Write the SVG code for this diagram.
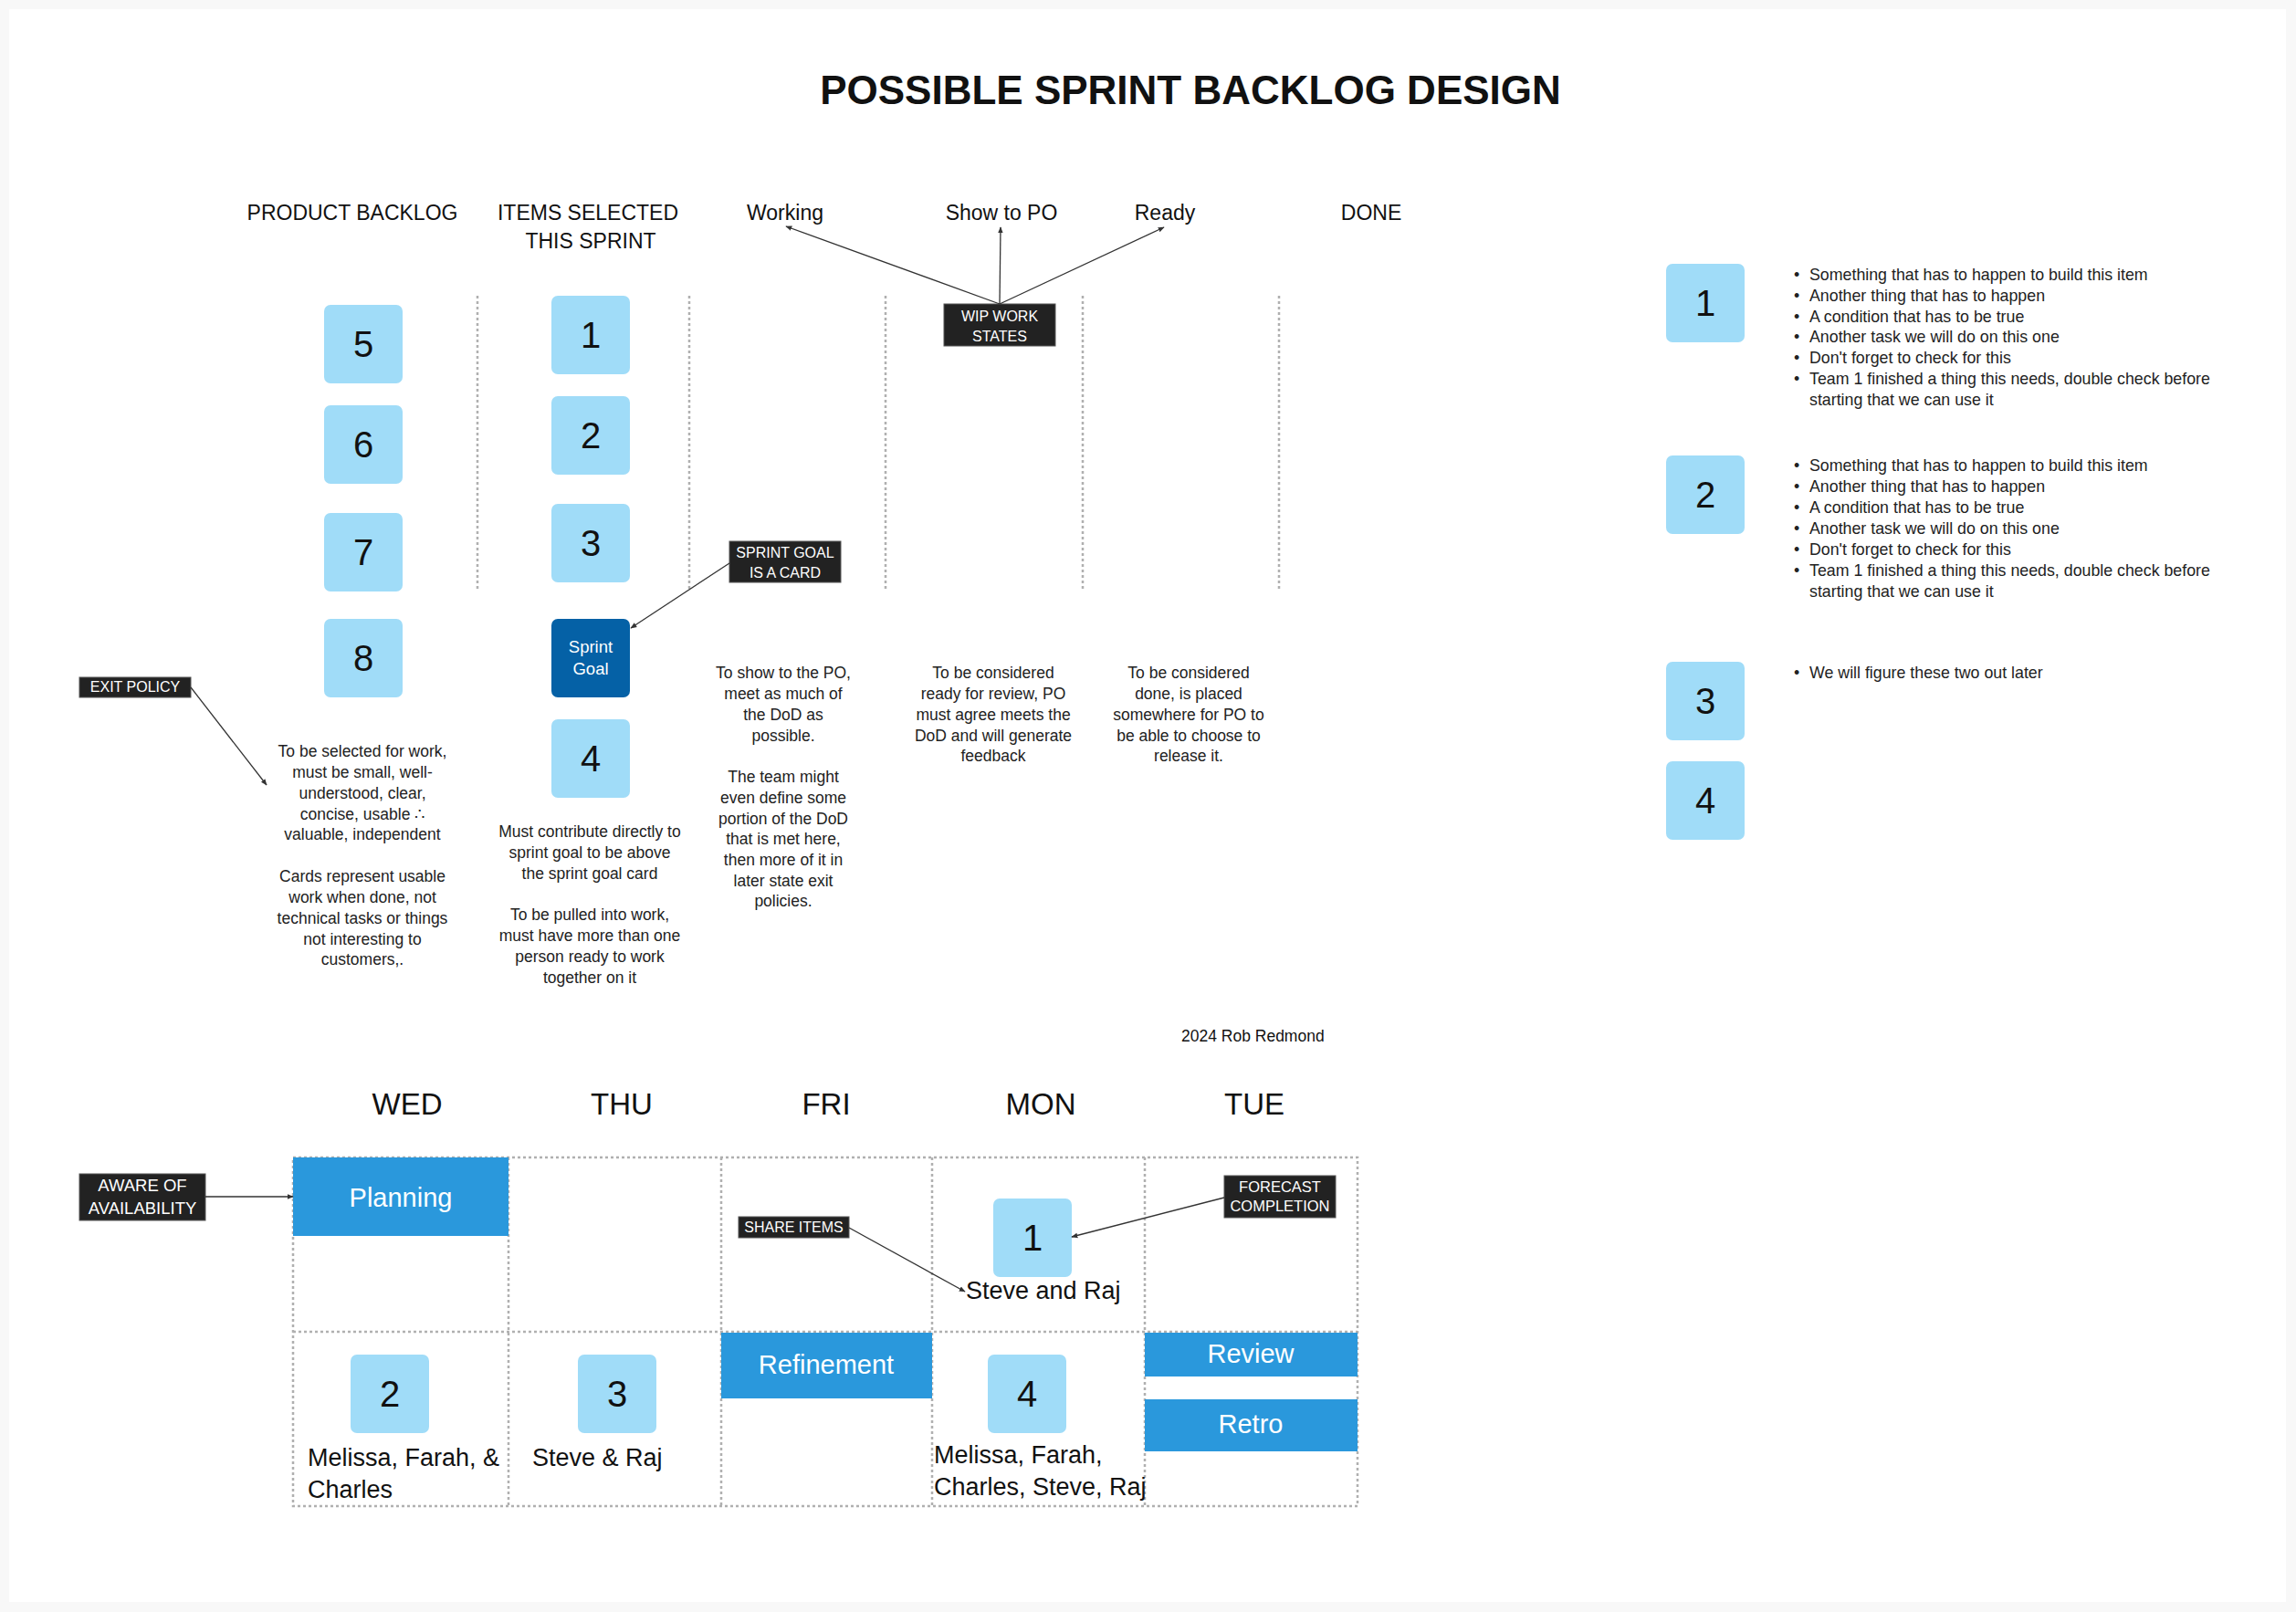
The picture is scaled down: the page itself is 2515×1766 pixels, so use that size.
<svg xmlns="http://www.w3.org/2000/svg" width="2515" height="1766" viewBox="0 0 2515 1766">
<defs>
<marker id="ah" viewBox="0 0 10 10" refX="9" refY="5" markerWidth="7" markerHeight="7" markerUnits="userSpaceOnUse" orient="auto">
<path d="M0,1 L10,5 L0,9 z" fill="#333"/>
</marker>
<style>
text{font-family:"Liberation Sans",Arial,sans-serif;fill:#111}
.title{font-size:44px;font-weight:bold;text-anchor:middle}
.hdr{font-size:23px;text-anchor:middle}
.day{font-size:33px;text-anchor:middle}
.card{fill:#a0dcf8}
.num{font-size:40px;text-anchor:middle}
.pol{font-size:17.5px;text-anchor:middle;fill:#222}
.lbl rect{fill:#222;stroke:#555;stroke-width:1}
.lbl text{fill:#fff;font-size:16px;text-anchor:middle}
.evt rect{fill:#2a98dc}
.evt text{fill:#fff;font-size:29px;text-anchor:middle}
.dash{stroke:#b0b0b0;stroke-width:2.5;stroke-dasharray:3 3;fill:none}
.con{stroke:#333;stroke-width:1.3;fill:none;marker-end:url(#ah)}
.bul{font-size:17.8px;fill:#222}
.ppl{font-size:27px}
</style>
</defs>
<rect x="0" y="0" width="2515" height="1766" fill="#f8f8f8"/>
<rect x="10" y="10" width="2494" height="1745" fill="#fff"/>

<text class="title" x="1304" y="114">POSSIBLE SPRINT BACKLOG DESIGN</text>

<g id="headers">
<text class="hdr" x="386" y="241">PRODUCT BACKLOG</text>
<text class="hdr" x="644" y="241">ITEMS SELECTED</text>
<text class="hdr" x="647" y="272">THIS SPRINT</text>
<text class="hdr" x="860" y="241">Working</text>
<text class="hdr" x="1097" y="241">Show to PO</text>
<text class="hdr" x="1276" y="241">Ready</text>
<text class="hdr" x="1502" y="241">DONE</text>
</g>

<g id="columns">
<line class="dash" x1="523" y1="324" x2="523" y2="648"/>
<line class="dash" x1="755" y1="324" x2="755" y2="648"/>
<line class="dash" x1="970" y1="324" x2="970" y2="648"/>
<line class="dash" x1="1186" y1="324" x2="1186" y2="648"/>
<line class="dash" x1="1401" y1="324" x2="1401" y2="648"/>
</g>

<g id="card-5"><rect class="card" x="355" y="334" width="86" height="86" rx="7"/><text class="num" x="398" y="391">5</text></g>
<g id="card-6"><rect class="card" x="355" y="444" width="86" height="86" rx="7"/><text class="num" x="398" y="501">6</text></g>
<g id="card-7"><rect class="card" x="355" y="562" width="86" height="86" rx="7"/><text class="num" x="398" y="619">7</text></g>
<g id="card-8"><rect class="card" x="355" y="678" width="86" height="86" rx="7"/><text class="num" x="398" y="735">8</text></g>

<g id="sel-1"><rect class="card" x="604" y="324" width="86" height="86" rx="7"/><text class="num" x="647" y="381">1</text></g>
<g id="sel-2"><rect class="card" x="604" y="434" width="86" height="86" rx="7"/><text class="num" x="647" y="491">2</text></g>
<g id="sel-3"><rect class="card" x="604" y="552" width="86" height="86" rx="7"/><text class="num" x="647" y="609">3</text></g>
<g id="sprint-goal"><rect x="604" y="678" width="86" height="86" rx="7" fill="#0561a6"/><text x="647" y="715" style="font-size:18.5px;text-anchor:middle;fill:#fff">Sprint</text><text x="647" y="739" style="font-size:18.5px;text-anchor:middle;fill:#fff">Goal</text></g>
<g id="sel-4"><rect class="card" x="604" y="788" width="86" height="86" rx="7"/><text class="num" x="647" y="845">4</text></g>

<g id="wip-label" class="lbl"><rect x="1034" y="333" width="122" height="46"/><text x="1095" y="352">WIP WORK</text><text x="1095" y="374">STATES</text></g>
<g id="sprintgoal-label" class="lbl"><rect x="799" y="593" width="122" height="45"/><text x="860" y="611">SPRINT GOAL</text><text x="860" y="633">IS A CARD</text></g>
<g id="exit-label" class="lbl"><rect x="87" y="742" width="122" height="22"/><text x="148" y="758">EXIT POLICY</text></g>

<g id="policy-backlog">
<text class="pol" x="397" y="829">To be selected for work,</text>
<text class="pol" x="397" y="852">must be small, well-</text>
<text class="pol" x="397" y="875">understood, clear,</text>
<text class="pol" x="397" y="898">concise, usable ∴</text>
<text class="pol" x="397" y="920">valuable, independent</text>
<text class="pol" x="397" y="966">Cards represent usable</text>
<text class="pol" x="397" y="989">work when done, not</text>
<text class="pol" x="397" y="1012">technical tasks or things</text>
<text class="pol" x="397" y="1035">not interesting to</text>
<text class="pol" x="397" y="1057">customers,.</text>
</g>
<g id="policy-selected">
<text class="pol" x="646" y="917">Must contribute directly to</text>
<text class="pol" x="646" y="940">sprint goal to be above</text>
<text class="pol" x="646" y="963">the sprint goal card</text>
<text class="pol" x="646" y="1008">To be pulled into work,</text>
<text class="pol" x="646" y="1031">must have more than one</text>
<text class="pol" x="646" y="1054">person ready to work</text>
<text class="pol" x="646" y="1077">together on it</text>
</g>
<g id="policy-working">
<text class="pol" x="858" y="743">To show to the PO,</text>
<text class="pol" x="858" y="766">meet as much of</text>
<text class="pol" x="858" y="789">the DoD as</text>
<text class="pol" x="858" y="812">possible.</text>
<text class="pol" x="858" y="857">The team might</text>
<text class="pol" x="858" y="880">even define some</text>
<text class="pol" x="858" y="903">portion of the DoD</text>
<text class="pol" x="858" y="925">that is met here,</text>
<text class="pol" x="858" y="948">then more of it in</text>
<text class="pol" x="858" y="971">later state exit</text>
<text class="pol" x="858" y="993">policies.</text>
</g>
<g id="policy-show">
<text class="pol" x="1088" y="743">To be considered</text>
<text class="pol" x="1088" y="766">ready for review, PO</text>
<text class="pol" x="1088" y="789">must agree meets the</text>
<text class="pol" x="1088" y="812">DoD and will generate</text>
<text class="pol" x="1088" y="834">feedback</text>
</g>
<g id="policy-ready">
<text class="pol" x="1302" y="743">To be considered</text>
<text class="pol" x="1302" y="766">done, is placed</text>
<text class="pol" x="1302" y="789">somewhere for PO to</text>
<text class="pol" x="1302" y="812">be able to choose to</text>
<text class="pol" x="1302" y="834">release it.</text>
</g>

<g id="detail-1"><rect class="card" x="1825" y="289" width="86" height="86" rx="7"/><text class="num" x="1868" y="346">1</text>
<text class="bul" x="1965" y="307">•</text><text class="bul" x="1982" y="307">Something that has to happen to build this item</text>
<text class="bul" x="1965" y="330">•</text><text class="bul" x="1982" y="330">Another thing that has to happen</text>
<text class="bul" x="1965" y="353">•</text><text class="bul" x="1982" y="353">A condition that has to be true</text>
<text class="bul" x="1965" y="375">•</text><text class="bul" x="1982" y="375">Another task we will do on this one</text>
<text class="bul" x="1965" y="398">•</text><text class="bul" x="1982" y="398">Don't forget to check for this</text>
<text class="bul" x="1965" y="421">•</text><text class="bul" x="1982" y="421">Team 1 finished a thing this needs, double check before</text>
<text class="bul" x="1982" y="444">starting that we can use it</text>
</g>
<g id="detail-2"><rect class="card" x="1825" y="499" width="86" height="86" rx="7"/><text class="num" x="1868" y="556">2</text>
<text class="bul" x="1965" y="516">•</text><text class="bul" x="1982" y="516">Something that has to happen to build this item</text>
<text class="bul" x="1965" y="539">•</text><text class="bul" x="1982" y="539">Another thing that has to happen</text>
<text class="bul" x="1965" y="562">•</text><text class="bul" x="1982" y="562">A condition that has to be true</text>
<text class="bul" x="1965" y="585">•</text><text class="bul" x="1982" y="585">Another task we will do on this one</text>
<text class="bul" x="1965" y="608">•</text><text class="bul" x="1982" y="608">Don't forget to check for this</text>
<text class="bul" x="1965" y="631">•</text><text class="bul" x="1982" y="631">Team 1 finished a thing this needs, double check before</text>
<text class="bul" x="1982" y="654">starting that we can use it</text>
</g>
<g id="detail-3"><rect class="card" x="1825" y="725" width="86" height="86" rx="7"/><text class="num" x="1868" y="782">3</text>
<text class="bul" x="1965" y="743">•</text><text class="bul" x="1982" y="743">We will figure these two out later</text>
</g>
<g id="detail-4"><rect class="card" x="1825" y="834" width="86" height="86" rx="7"/><text class="num" x="1868" y="891">4</text></g>

<text x="1294" y="1141" style="font-size:17.5px;fill:#111">2024 Rob Redmond</text>

<g id="days">
<text class="day" x="446" y="1221">WED</text>
<text class="day" x="681" y="1221">THU</text>
<text class="day" x="905" y="1221">FRI</text>
<text class="day" x="1140" y="1221">MON</text>
<text class="day" x="1374" y="1221">TUE</text>
</g>

<g id="calendar-grid">
<rect class="dash" x="321" y="1268" width="1166" height="382"/>
<line class="dash" x1="321" y1="1459" x2="1487" y2="1459"/>
<line class="dash" x1="557" y1="1268" x2="557" y2="1650"/>
<line class="dash" x1="790" y1="1268" x2="790" y2="1650"/>
<line class="dash" x1="1021" y1="1268" x2="1021" y2="1650"/>
<line class="dash" x1="1254" y1="1268" x2="1254" y2="1650"/>
</g>

<g id="planning" class="evt"><rect x="321" y="1268" width="236" height="86"/><text x="439" y="1322">Planning</text></g>
<g id="refinement" class="evt"><rect x="790" y="1460" width="231" height="72"/><text x="905" y="1505">Refinement</text></g>
<g id="review" class="evt"><rect x="1254" y="1460" width="233" height="48"/><text x="1370" y="1493">Review</text></g>
<g id="retro" class="evt"><rect x="1254" y="1533" width="233" height="57"/><text x="1370" y="1570">Retro</text></g>

<g id="mon-1"><rect class="card" x="1088" y="1313" width="86" height="86" rx="7"/><text class="num" x="1131" y="1370">1</text><text class="ppl" x="1058" y="1423">Steve and Raj</text></g>
<g id="wed-2"><rect class="card" x="384" y="1484" width="86" height="86" rx="7"/><text class="num" x="427" y="1541">2</text><text class="ppl" x="337" y="1606">Melissa, Farah, &amp;</text><text class="ppl" x="337" y="1641">Charles</text></g>
<g id="thu-3"><rect class="card" x="633" y="1484" width="86" height="86" rx="7"/><text class="num" x="676" y="1541">3</text><text class="ppl" x="583" y="1606">Steve &amp; Raj</text></g>
<g id="mon-4"><rect class="card" x="1082" y="1484" width="86" height="86" rx="7"/><text class="num" x="1125" y="1541">4</text><text class="ppl" x="1023" y="1603">Melissa, Farah,</text><text class="ppl" x="1023" y="1638">Charles, Steve, Raj</text></g>

<g id="aware-label" class="lbl"><rect x="87" y="1286" width="138" height="51"/><text x="156" y="1305" style="font-size:18.5px">AWARE OF</text><text x="156" y="1330" style="font-size:18.5px">AVAILABILITY</text></g>
<g id="share-label" class="lbl"><rect x="809" y="1333" width="121" height="23"/><text x="869.5" y="1350">SHARE ITEMS</text></g>
<g id="forecast-label" class="lbl"><rect x="1341" y="1288" width="122" height="46"/><text x="1402" y="1306" style="font-size:16.5px">FORECAST</text><text x="1402" y="1327" style="font-size:16.5px">COMPLETION</text></g>

<g id="connectors">
<line class="con" x1="1095" y1="333" x2="861" y2="248"/>
<line class="con" x1="1095" y1="333" x2="1096" y2="249"/>
<line class="con" x1="1095" y1="333" x2="1275" y2="249"/>
<line class="con" x1="799" y1="617" x2="691" y2="688"/>
<line class="con" x1="209" y1="753" x2="292" y2="860"/>
<line class="con" x1="225" y1="1311" x2="321" y2="1311"/>
<line class="con" x1="930" y1="1345" x2="1057" y2="1415"/>
<line class="con" x1="1341" y1="1312" x2="1174" y2="1355"/>
</g>
</svg>
